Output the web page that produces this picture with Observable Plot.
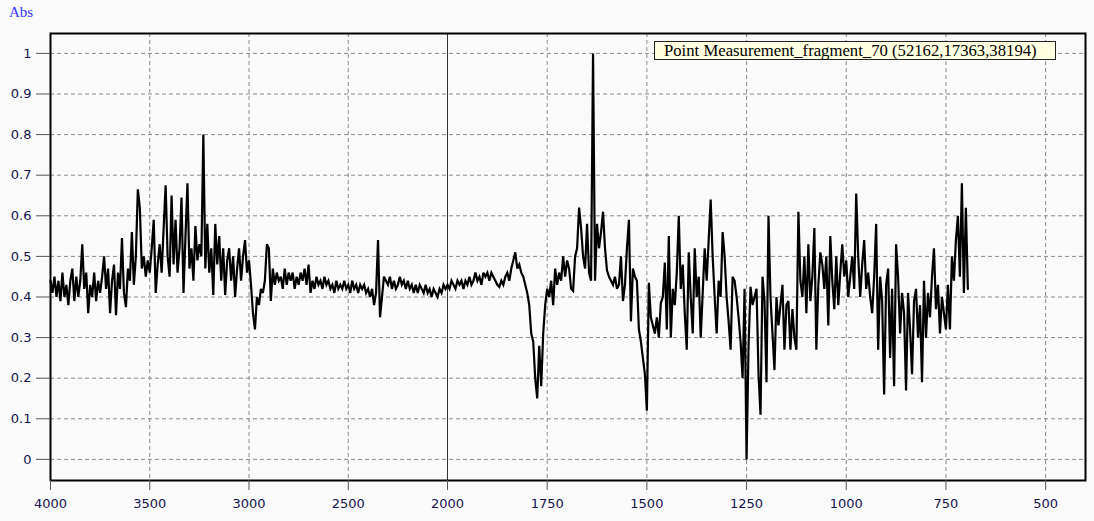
<!DOCTYPE html>
<html><head><meta charset="utf-8">
<script src="https://cdn.jsdelivr.net/npm/d3@7"></script>
<script src="https://cdn.jsdelivr.net/npm/@observablehq/plot@0.6"></script>
<style>
html,body{margin:0;padding:0;background:#fafafa;}
#wrap{position:relative;width:1094px;height:521px;overflow:hidden;}
#wrap svg{position:absolute;left:0;top:0;}
#abs{position:absolute;left:9px;top:4px;font:15px "Liberation Serif",serif;color:#3535ff;}
#legend{position:absolute;left:654px;top:41px;width:402px;height:19px;background:#ffffe1;border:1px solid #222;font:16.7px "Liberation Serif",serif;line-height:17px;padding-left:9px;box-sizing:border-box;color:#000;white-space:nowrap;}
</style></head>
<body>
<div id="wrap"></div>
<script>
// wavenumber grids (cm-1), evenly sampled by the instrument
const highStart = 4000, highStep = 10;   // 4000 -> 2000
const lowStart = 1995, lowStep = 5;      // 1995 -> 695

const absHigh = [
0.44,0.41,0.45,0.40,0.44,0.39,0.46,0.40,0.43,0.38,
0.44,0.47,0.39,0.45,0.40,0.44,0.53,0.42,0.46,0.36,
0.43,0.40,0.46,0.39,0.44,0.41,0.45,0.50,0.42,0.47,
0.36,0.44,0.48,0.355,0.46,0.42,0.545,0.41,0.375,0.47,
0.44,0.56,0.43,0.50,0.665,0.62,0.47,0.50,0.45,0.49,
0.46,0.52,0.59,0.41,0.48,0.53,0.46,0.57,0.675,0.50,
0.45,0.65,0.48,0.59,0.46,0.52,0.645,0.41,0.55,0.68,
0.47,0.52,0.44,0.575,0.49,0.53,0.50,0.80,0.47,0.58,
0.46,0.52,0.405,0.58,0.48,0.55,0.44,0.52,0.405,0.49,
0.52,0.44,0.50,0.40,0.47,0.52,0.44,0.50,0.54,0.46,
0.49,0.43,0.36,0.32,0.40,0.38,0.42,0.41,0.44,0.53,
0.52,0.39,0.47,0.43,0.46,0.44,0.45,0.42,0.47,0.43,
0.46,0.44,0.46,0.42,0.45,0.43,0.46,0.44,0.47,0.43,
0.48,0.41,0.44,0.42,0.45,0.43,0.44,0.42,0.45,0.43,
0.44,0.42,0.43,0.41,0.44,0.42,0.43,0.42,0.44,0.42,
0.43,0.41,0.44,0.42,0.43,0.41,0.43,0.42,0.43,0.41,
0.42,0.40,0.42,0.38,0.41,0.54,0.35,0.40,0.45,0.44,
0.43,0.45,0.42,0.44,0.42,0.43,0.45,0.43,0.44,0.42,
0.44,0.42,0.43,0.41,0.43,0.41,0.43,0.42,0.41,0.43,
0.41,0.42,0.40,0.42,0.41,0.40,0.42,0.41,0.43,0.42,
0.43
];

const absLow = [
0.42,0.44,0.43,0.42,0.44,0.43,0.44,0.42,0.44,0.43,
0.45,0.43,0.44,0.46,0.44,0.45,0.43,0.46,0.45,0.46,
0.44,0.46,0.45,0.44,0.43,0.425,0.44,0.43,0.45,0.46,
0.44,0.47,0.49,0.51,0.47,0.48,0.46,0.45,0.43,0.41,
0.38,0.31,0.29,0.20,0.15,0.28,0.18,0.31,0.38,0.42,
0.40,0.44,0.38,0.47,0.43,0.46,0.44,0.50,0.45,0.49,
0.47,0.42,0.415,0.50,0.52,0.62,0.57,0.50,0.47,0.58,
0.46,0.44,1.0,0.44,0.58,0.52,0.56,0.61,0.52,0.465,
0.45,0.44,0.43,0.45,0.42,0.43,0.50,0.39,0.43,0.52,
0.59,0.34,0.47,0.45,0.44,0.32,0.29,0.25,0.21,0.12,
0.435,0.35,0.33,0.31,0.35,0.30,0.385,0.40,0.485,0.32,
0.55,0.30,0.42,0.38,0.46,0.60,0.42,0.48,0.36,0.27,
0.51,0.40,0.31,0.52,0.40,0.45,0.30,0.41,0.52,0.44,
0.54,0.64,0.50,0.40,0.31,0.44,0.40,0.56,0.50,0.40,
0.34,0.27,0.45,0.44,0.40,0.35,0.29,0.20,0.42,0.0,
0.28,0.425,0.38,0.40,0.42,0.21,0.11,0.45,0.39,0.19,
0.60,0.40,0.31,0.22,0.40,0.33,0.38,0.43,0.27,0.38,
0.39,0.27,0.37,0.30,0.27,0.61,0.44,0.40,0.50,0.36,
0.53,0.39,0.45,0.57,0.27,0.43,0.51,0.48,0.42,0.50,
0.33,0.55,0.44,0.37,0.50,0.38,0.46,0.53,0.45,0.49,
0.40,0.45,0.50,0.42,0.655,0.50,0.40,0.48,0.54,0.42,
0.46,0.40,0.36,0.45,0.58,0.27,0.45,0.39,0.16,0.43,
0.47,0.25,0.42,0.18,0.53,0.45,0.31,0.41,0.36,0.17,
0.41,0.32,0.21,0.39,0.42,0.30,0.38,0.19,0.44,0.30,
0.41,0.35,0.45,0.52,0.37,0.43,0.31,0.40,0.36,0.32,
0.43,0.32,0.50,0.44,0.54,0.60,0.45,0.68,0.41,0.62,
0.42
];

const xTicks = [4000, 3500, 3000, 2500, 2000, 1750, 1500, 1250, 1000, 750, 500];
const yTicks = [0, 0.1, 0.2, 0.3, 0.4, 0.5, 0.6, 0.7, 0.8, 0.9, 1];
const breakAt = [2000];
const yLabel = "Abs";
const legendText = "Point Measurement_fragment_70 (52162,17363,38194)";

const spectrum = [
  ...absHigh.map((a, i) => ({wn: highStart - highStep * i, a})),
  ...absLow.map((a, i) => ({wn: lowStart - lowStep * i, a}))
];

const chart = Plot.plot({
  width: 1094, height: 521,
  marginLeft: 50, marginRight: 9, marginTop: 33, marginBottom: 41,
  style: {background: "transparent", fontFamily: "'DejaVu Sans', sans-serif", fontSize: "13px", overflow: "visible"},
  x: {type: "linear", domain: [4000, 2000, 400], range: [50, 447, 1085]},
  y: {domain: [-0.052, 1.049]},
  marks: [
    Plot.gridX(xTicks, {stroke: "#8a8a8a", strokeOpacity: 1, strokeDasharray: "4,3"}),
    Plot.gridY(yTicks, {stroke: "#8a8a8a", strokeOpacity: 1, strokeDasharray: "4,3"}),
    Plot.ruleX(breakAt, {stroke: "#333", strokeWidth: 1}),
    Plot.line(spectrum, {x: "wn", y: "a", stroke: "#000", strokeWidth: 2.2, strokeLinejoin: "miter", strokeMiterlimit: 3}),
    Plot.frame({stroke: "#000", strokeWidth: 2}),
    Plot.axisX(xTicks, {tickSize: 10, tickPadding: 8, stroke: "#555", fill: "#141450", label: null, tickFormat: d => String(d)}),
    Plot.axisY(yTicks, {tickSize: 14, tickPadding: 5, stroke: "#555", fill: "#141450", label: null, tickFormat: d => String(d)})
  ]
});

const wrap = document.getElementById("wrap");
wrap.appendChild(chart);
const absDiv = document.createElement("div");
absDiv.id = "abs"; absDiv.textContent = yLabel;
wrap.appendChild(absDiv);
const leg = document.createElement("div");
leg.id = "legend"; leg.textContent = legendText;
wrap.appendChild(leg);
</script>
</body></html>
